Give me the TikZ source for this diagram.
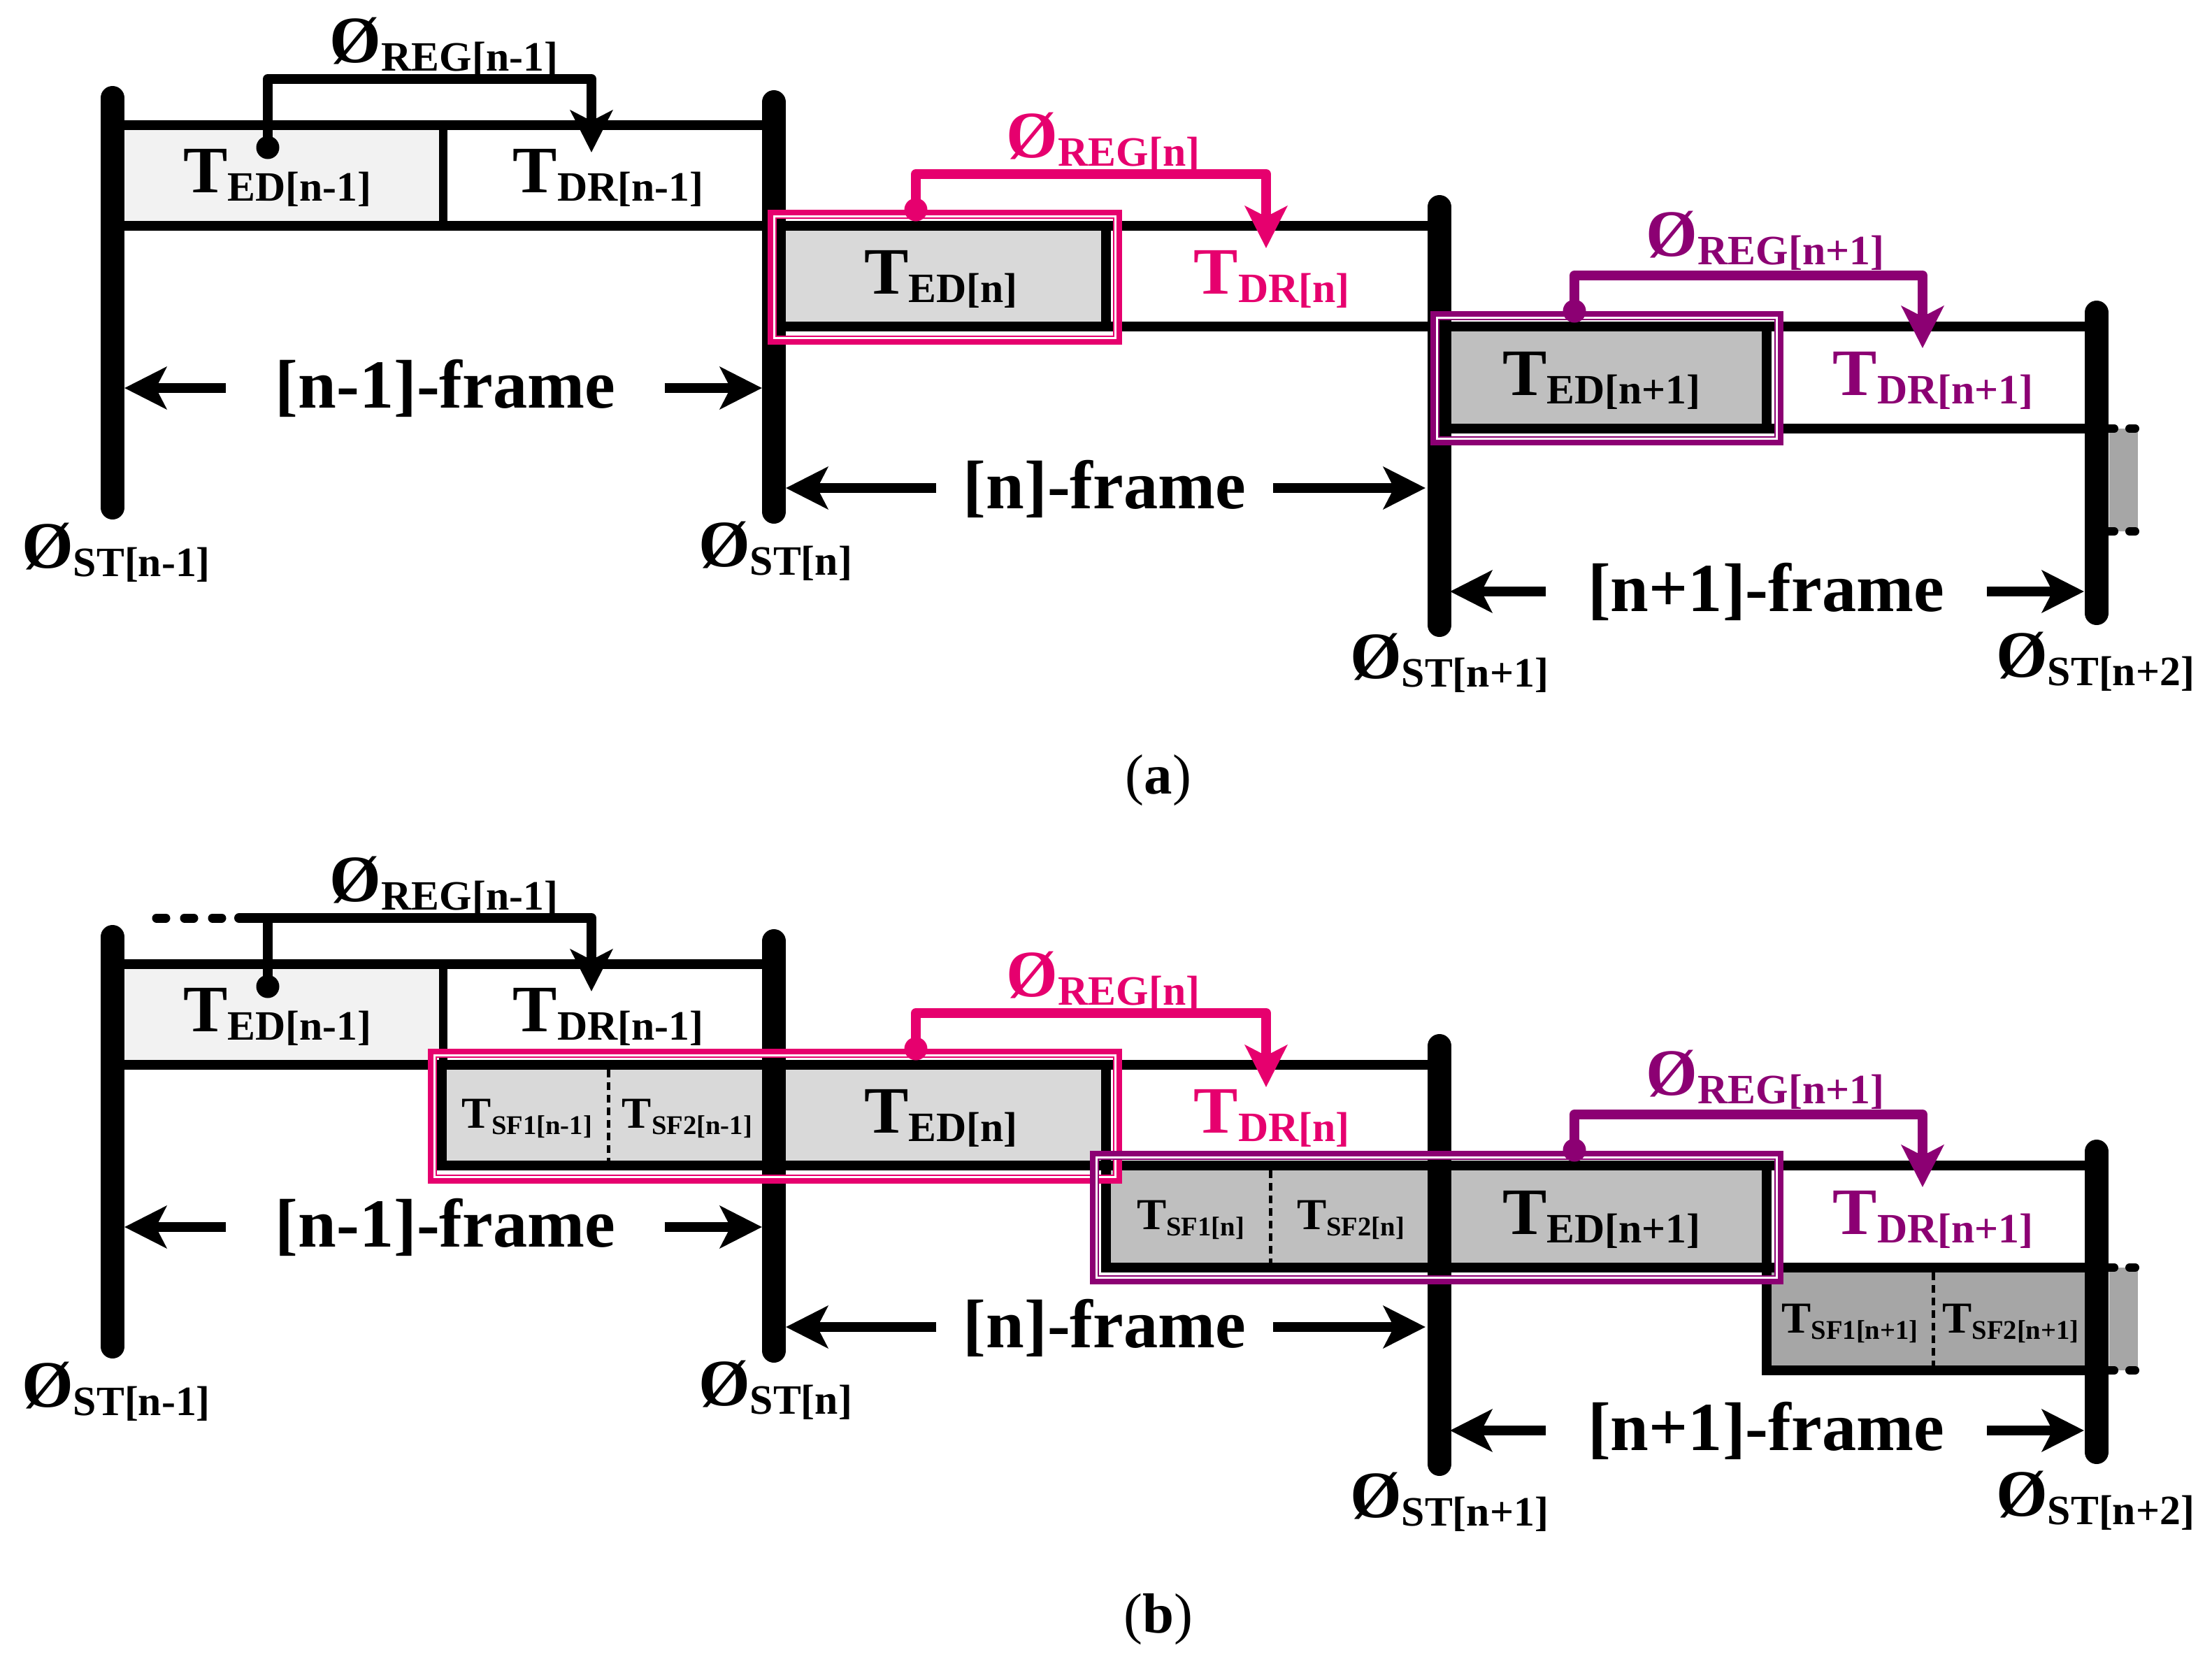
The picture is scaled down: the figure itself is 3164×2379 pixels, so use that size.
\documentclass[tikz,border=0pt]{standalone}
\usepackage{fontspec}
\setmainfont{Liberation Serif}
\usetikzlibrary{arrows.meta}
\definecolor{regpink}{RGB}{230,0,110}
\definecolor{regpurple}{RGB}{140,0,115}
\definecolor{gA}{HTML}{F2F2F2}
\definecolor{gB}{HTML}{D9D9D9}
\definecolor{gC}{HTML}{BFBFBF}
\definecolor{gD}{HTML}{A6A6A6}
\newcommand{\lowsub}[1]{\raisebox{-3.6pt}{\fontsize{17}{17}\selectfont #1}}
\newcommand{\lowsf}[1]{\raisebox{-2.6pt}{\fontsize{11}{11}\selectfont #1}}

\begin{document}
\begin{tikzpicture}[x=0.1mm, y=-0.1mm]
\tikzstyle{bar} = [line width=3.4mm, line cap=round]
\tikzstyle{tline} = [line width=1.4mm]
\tikzstyle{tbox} = [draw, line width=1.4mm]
\tikzstyle{sfdiv} = [line width=0.5mm, dash pattern=on 1.1mm off 0.7mm]
\tikzstyle{more} = [line width=1.2mm, line cap=round, dash pattern=on 1.4mm off 2.2mm]
\tikzstyle{arrow} = [-{Stealth[length=6mm, width=6mm, inset=1.5mm]}, line width=1.4mm]
\tikzstyle{reg} = [arrow, line join=round]
\tikzstyle{regdot} = [circle, fill, inner sep=0pt, minimum size=3.3mm]
\tikzstyle{lbl} = [font=\fontsize{27}{30}\selectfont\bfseries, inner sep=0pt, anchor=base]
\tikzstyle{sflbl} = [font=\fontsize{18}{20}\selectfont\bfseries, inner sep=0pt, anchor=base]
\tikzstyle{frm} = [font=\fontsize{28}{30}\selectfont\bfseries, inner xsep=7mm, inner ysep=0pt, anchor=base]
\tikzstyle{subfig} = [font=\fontsize{23}{25}\selectfont, inner sep=0pt, anchor=base]
\tikzstyle{hl} = [line width=1.3mm]
\tikzstyle{hlgap} = [white, line width=0.25mm]
\useasboundingbox (0,0) rectangle (3164,2379);

\foreach \p/\sh in {a/0mm, b/-120mm}{
\begin{scope}[yshift=\sh]
\fill[gA] (161,179) rectangle (634,323);
\fill[gD] (3017,613) rectangle (3058,760);
\draw[tline] (161,179) -- (1107,179);
\draw[tline] (161,323) -- (2059,323);
\draw[tline] (1582,467) -- (2999,467);
\draw[tline] (2527,613) -- (2999,613);
\draw[line width=1.2mm] (634,179) -- (634,323);
\draw[more] (3010,613) -- (3054,613);
\draw[more] (3010,760) -- (3054,760);
\end{scope}}

\draw[tbox, fill=gB] (1107,323) rectangle (1582,467);
\draw[tbox, fill=gC] (2059,467) rectangle (2527,613);
\begin{scope}[yshift=-120mm]
\draw[tbox, fill=gB] (632,323) rectangle (1582,467);
\draw[tbox, fill=gC] (1582,467) rectangle (2527,613);
\draw[tbox, fill=gD] (2527,613) rectangle (2999,760);
\draw[sfdiv] (870,330) -- (870,460);
\draw[sfdiv] (1817,474) -- (1817,606);
\draw[sfdiv] (2765,620) -- (2765,753);
\end{scope}

\foreach \p/\sh in {a/0mm, b/-120mm}{
\begin{scope}[yshift=\sh]
\draw[bar] (161,140) -- (161,726);
\draw[bar] (1107,146) -- (1107,732);
\draw[bar] (2059,296) -- (2059,894);
\draw[bar] (2999,447) -- (2999,877);
\end{scope}}

\draw[hl, regpink] (1104.5,306.5) rectangle (1598.5,486.5);
\draw[hlgap] (1107.5,309.5) rectangle (1595.5,483.5);
\draw[hl, regpurple] (2052.5,451.5) rectangle (2544.5,630.5);
\draw[hlgap] (2055.5,454.5) rectangle (2541.5,627.5);
\begin{scope}[yshift=-120mm]
\draw[hl, regpink] (618.5,306.5) rectangle (1598.5,486.5);
\draw[hlgap] (621.5,309.5) rectangle (1595.5,483.5);
\draw[hl, regpurple] (1565.5,452.5) rectangle (2544.5,630.5);
\draw[hlgap] (1568.5,455.5) rectangle (2541.5,627.5);
\end{scope}

\foreach \p/\sh in {a/0mm, b/-120mm}{
\begin{scope}[yshift=\sh]
\node[regdot] (d1\p) at (383,211) {};
\node[regdot, regpink] (d2\p) at (1310,300) {};
\node[regdot, regpurple] (d3\p) at (2252,445) {};
\coordinate (t1\p) at (846,218);
\coordinate (t2\p) at (1811,355);
\coordinate (t3\p) at (2750,498);
\draw[reg] (d1\p.center) -- (383,113) -| (t1\p);
\draw[reg, regpink] (d2\p.center) -- (1310,249) -| (t2\p);
\draw[reg, regpurple] (d3\p.center) -- (2252,394) -| (t3\p);
\node[lbl] (rg1\p) at (635,89) {Ø\lowsub{REG[n-1]}};
\node[lbl, regpink] (rg2\p) at (1578,225) {Ø\lowsub{REG[n]}};
\node[lbl, regpurple] (rg3\p) at (2525,366) {Ø\lowsub{REG[n+1]}};
\node[lbl] (ed1\p) at (397,275) {T\lowsub{ED[n-1]}};
\node[lbl] (dr1\p) at (870,275) {T\lowsub{DR[n-1]}};
\node[lbl] (ed2\p) at (1346,420) {T\lowsub{ED[n]}};
\node[lbl, regpink] (dr2\p) at (1819,420) {T\lowsub{DR[n]}};
\node[lbl] (ed3\p) at (2291,565) {T\lowsub{ED[n+1]}};
\node[lbl, regpurple] (dr3\p) at (2765,565) {T\lowsub{DR[n+1]}};
\node[frm] (f1\p) at (637,583) {[n-1]-frame};
\node[frm, inner xsep=3.8mm] (f2\p) at (1580,727) {[n]-frame};
\node[frm, inner xsep=6mm] (f3\p) at (2526,874) {[n+1]-frame};
\coordinate (l1\p) at (178,555);
\coordinate (r1\p) at (1090,555);
\coordinate (l2\p) at (1124,698);
\coordinate (r2\p) at (2039,698);
\coordinate (l3\p) at (2074,846);
\coordinate (r3\p) at (2981,846);
\draw[arrow] (f1\p.west |- l1\p) -- (l1\p);
\draw[arrow] (f1\p.east |- r1\p) -- (r1\p);
\draw[arrow] (f2\p.west |- l2\p) -- (l2\p);
\draw[arrow] (f2\p.east |- r2\p) -- (r2\p);
\draw[arrow] (f3\p.west |- l3\p) -- (l3\p);
\draw[arrow] (f3\p.east |- r3\p) -- (r3\p);
\node[lbl] (s1\p) at (166,812) {Ø\lowsub{ST[n-1]}};
\node[lbl] (s2\p) at (1109,810) {Ø\lowsub{ST[n]}};
\node[lbl] (s3\p) at (2073,970) {Ø\lowsub{ST[n+1]}};
\node[lbl] (s4\p) at (2997,968) {Ø\lowsub{ST[n+2]}};
\node[subfig] (c\p) at (1657,1135) {(\textbf{\p})};
\end{scope}}

\begin{scope}[yshift=-120mm]
\node[sflbl] (sf1a) at (754,413) {T\lowsf{SF1[n-1]}};
\node[sflbl] (sf2a) at (983,413) {T\lowsf{SF2[n-1]}};
\node[sflbl] (sf1b) at (1703,558) {T\lowsf{SF1[n]}};
\node[sflbl] (sf2b) at (1932,558) {T\lowsf{SF2[n]}};
\node[sflbl] (sf1c) at (2646,706) {T\lowsf{SF1[n+1]}};
\node[sflbl] (sf2c) at (2876,706) {T\lowsf{SF2[n+1]}};
\coordinate (x0) at (224,113);
\coordinate (x1) at (342,113);
\draw[line width=1.3mm, line cap=round, dash pattern=on 1.3mm off 2.7mm] (x0) -- (317,113);
\draw[line width=1.4mm, line cap=round] (x1) -- (d1b.center |- x1);
\end{scope}
\end{tikzpicture}
\end{document}
